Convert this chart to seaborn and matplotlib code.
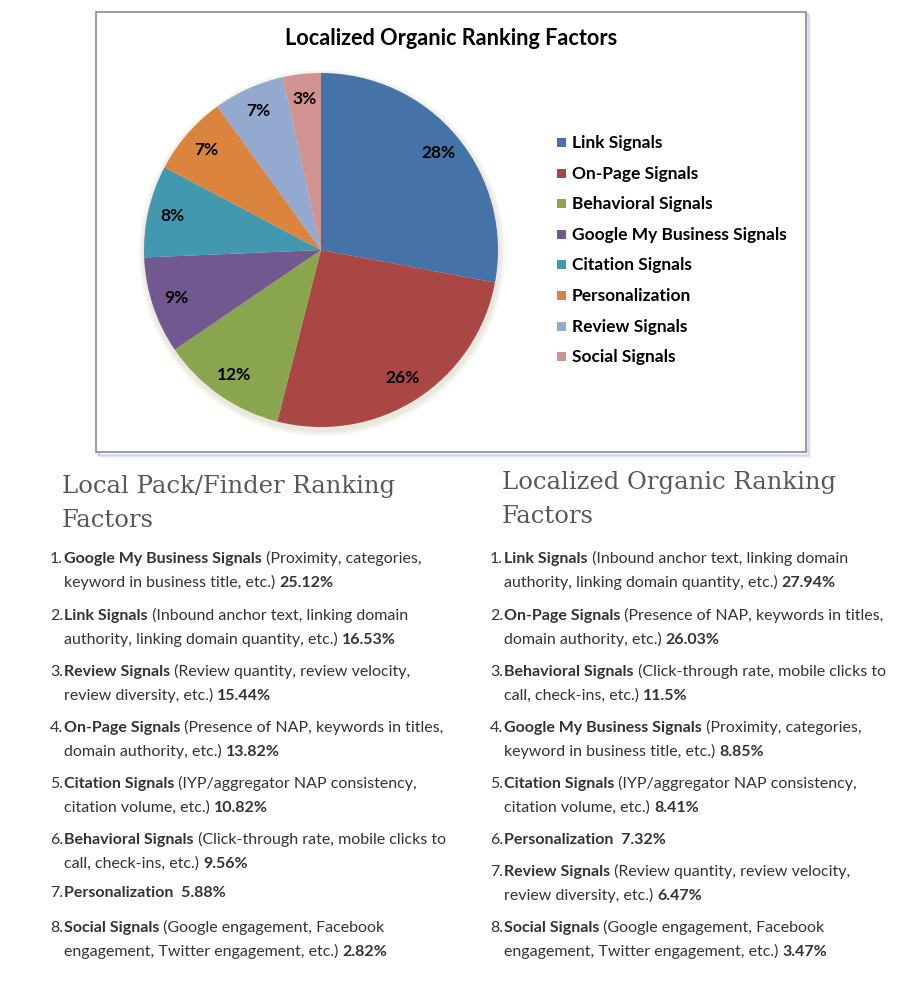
import matplotlib
matplotlib.use("Agg")
import matplotlib.pyplot as plt
from matplotlib.patches import Rectangle, Circle
import seaborn as sns

# pie data (chart in the box)
chart_title = "Localized Organic Ranking Factors"
pie_factors = ["Link Signals", "On-Page Signals", "Behavioral Signals",
               "Google My Business Signals", "Citation Signals",
               "Personalization", "Review Signals", "Social Signals"]
pie_values = [27.94, 26.03, 11.5, 8.85, 8.41, 7.32, 6.47, 3.47]
pie_labels = ["28%", "26%", "12%", "9%", "8%", "7%", "7%", "3%"]
pie_colors = ["#4572A7", "#AA4643", "#89A54E", "#71588F",
              "#4198AF", "#DB843D", "#93A9CF", "#D19392"]

# text lists below the chart ("|" marks the line break)
local_title = "Local Pack/Finder Ranking\nFactors"
local_names = ["Google My Business Signals", "Link Signals", "Review Signals",
               "On-Page Signals", "Citation Signals", "Behavioral Signals",
               "Personalization", "Social Signals"]
local_desc = ["Proximity, categories,|keyword in business title, etc.",
              "Inbound anchor text, linking domain|authority, linking domain quantity, etc.",
              "Review quantity, review velocity,|review diversity, etc.",
              "Presence of NAP, keywords in titles,|domain authority, etc.",
              "IYP/aggregator NAP consistency,|citation volume, etc.",
              "Click-through rate, mobile clicks to|call, check-ins, etc.",
              "",
              "Google engagement, Facebook|engagement, Twitter engagement, etc."]
local_pcts = ["25.12%", "16.53%", "15.44%", "13.82%", "10.82%", "9.56%", "5.88%", "2.82%"]

organic_title = "Localized Organic Ranking\nFactors"
organic_names = ["Link Signals", "On-Page Signals", "Behavioral Signals",
                 "Google My Business Signals", "Citation Signals",
                 "Personalization", "Review Signals", "Social Signals"]
organic_desc = ["Inbound anchor text, linking domain|authority, linking domain quantity, etc.",
                "Presence of NAP, keywords in titles,|domain authority, etc.",
                "Click-through rate, mobile clicks to|call, check-ins, etc.",
                "Proximity, categories,|keyword in business title, etc.",
                "IYP/aggregator NAP consistency,|citation volume, etc.",
                "",
                "Review quantity, review velocity,|review diversity, etc.",
                "Google engagement, Facebook|engagement, Twitter engagement, etc."]
organic_pcts = ["27.94%", "26.03%", "11.5%", "8.85%", "8.41%", "7.32%", "6.47%", "3.47%"]

sns.set_theme(style="white")
plt.rcParams["font.family"] = ["Lato", "DejaVu Sans"]

W, H = 910, 996
fig = plt.figure(figsize=(W / 100, H / 100), dpi=100)
bg = fig.add_axes([0, 0, 1, 1])
bg.set_xlim(0, W)
bg.set_ylim(H, 0)
bg.axis("off")

# chart frame with soft blue shadow
for i, a in enumerate([0.35, 0.22, 0.12]):
    bg.add_patch(Rectangle((98 + i, 14 + i), 710, 441, facecolor="none",
                           edgecolor="#9fb5e0", lw=1.5, alpha=a))
bg.add_patch(Rectangle((96, 12), 710, 440, facecolor="white", edgecolor="#8a8a8a", lw=1.2))

bg.text(451, 38, chart_title, ha="center", va="center", fontsize=15.6,
        fontweight="bold", color="black")

# pie
cx, cy, r = 321, 250, 177
for i, a in enumerate([0.10, 0.10, 0.10]):
    bg.add_patch(Circle((cx + 1, cy + 3), r + 2 + i * 2, color="#b8b08a", alpha=a, lw=0))
pie_ax = fig.add_axes([(cx - r) / W, 1 - (cy + r) / H, 2 * r / W, 2 * r / H])
wedges, texts = pie_ax.pie(pie_values, colors=sns.color_palette(pie_colors),
                           startangle=90, counterclock=False,
                           labels=pie_labels, labeldistance=0.86,
                           wedgeprops=dict(linewidth=0),
                           textprops=dict(fontsize=12.5, fontweight="bold",
                                          color="black", ha="center", va="center"))
pie_ax.set_xlim(-1, 1)
pie_ax.set_ylim(-1, 1)
pie_ax.set_aspect("equal")
pie_ax.axis("off")

# legend
for i, (name, col) in enumerate(zip(pie_factors, pie_colors)):
    y = 142 + i * 30.6
    bg.add_patch(Rectangle((557, y - 4), 9, 9, facecolor=col, edgecolor="none"))
    bg.text(572, y + 1, name, ha="left", va="center", fontsize=12.5,
            fontweight="bold", color="black")

fig.canvas.draw()
renderer = fig.canvas.get_renderer()


def draw_runs(x, y, runs, size=11.5):
    for txt, weight in runs:
        if not txt:
            continue
        t = bg.text(x, y, txt, ha="left", va="baseline", fontsize=size,
                    fontweight=weight, color="#333333")
        x += t.get_window_extent(renderer).width


def draw_list(x_num, x_txt, heading, hy, names, descs, pcts, ys):
    for j, line in enumerate(heading.split("\n")):
        bg.text(x_num + 10, hy + j * 34, line, ha="left", va="center", fontsize=17.5,
                family="DejaVu Serif", color="#585858")
    for i, (name, desc, pct) in enumerate(zip(names, descs, pcts)):
        y1 = ys[i]
        bg.text(x_txt, y1, f"{i + 1}.", ha="right", va="baseline", fontsize=11.5,
                color="#333333")
        if desc:
            first, second = desc.split("|")
            draw_runs(x_txt + 1, y1, [(name, "bold"), (" (" + first, "normal")])
            draw_runs(x_txt + 1, y1 + 24, [(second + ") ", "normal"), (pct, "bold")])
        else:
            draw_runs(x_txt + 1, y1, [(name + "  " + pct, "bold")])


left_ys = [563, 620, 676, 732, 788, 844, 897, 932]
right_ys = [563, 620, 676, 732, 788, 844, 876, 932]
draw_list(52, 63, local_title, 486, local_names, local_desc, local_pcts, left_ys)
draw_list(492, 503, organic_title, 482, organic_names, organic_desc, organic_pcts, right_ys)

fig.savefig("out.png", dpi=100)
